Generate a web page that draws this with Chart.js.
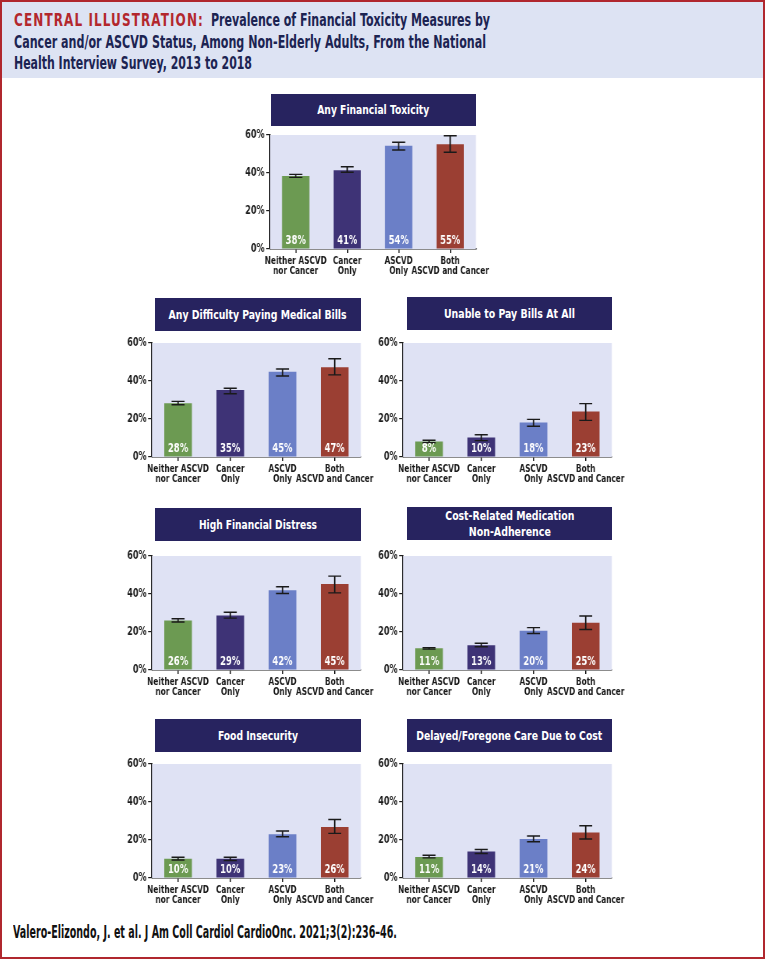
<!DOCTYPE html>
<html><head><meta charset="utf-8">
<script src="https://cdn.jsdelivr.net/npm/chart.js@4"></script>
<style>
html,body{margin:0;padding:0;background:#fff;}
#frame{position:absolute;left:0;top:0;width:761px;height:955px;border:2px solid #b0272e;overflow:hidden;}
#hdr{position:absolute;left:0;top:0;width:761px;height:76px;background:#dde3f3;}
.hl{position:absolute;white-space:nowrap;font-family:"DejaVu Sans Condensed","DejaVu Sans",sans-serif;font-weight:bold;font-size:18px;line-height:20px;color:#1c2452;transform-origin:left center;}
.red{color:#b3272d;letter-spacing:1.5px;}
.tbox{position:absolute;background:#27235f;color:#fff;font-family:"DejaVu Sans Condensed","DejaVu Sans",sans-serif;font-weight:bold;font-size:13px;display:flex;flex-direction:column;align-items:center;justify-content:center;text-align:center;line-height:16px;}
.tbox span{display:inline-block;white-space:nowrap;transform-origin:center center;}
canvas{position:absolute;}
#foot{position:absolute;white-space:nowrap;font-family:"DejaVu Sans Condensed","DejaVu Sans",sans-serif;font-weight:bold;font-size:18px;line-height:20px;color:#111;transform-origin:left center;}
</style></head>
<body>
<div id="frame">
<div id="hdr">
  <span class="hl red" id="h0">CENTRAL ILLUSTRATION:</span>
  <span class="hl" id="h1">Prevalence of Financial Toxicity Measures by</span>
  <span class="hl" id="h2">Cancer and/or ASCVD Status, Among Non-Elderly Adults, From the National</span>
  <span class="hl" id="h3">Health Interview Survey, 2013 to 2018</span>
</div>
<span id="foot">Valero-Elizondo, J. et al. J Am Coll Cardiol CardioOnc. 2021;3(2):236–46.</span>
</div>
<script>
// ---- data ----
const categories = [["Neither ASCVD","nor Cancer"],["Cancer","Only"],["ASCVD","Only"],["Both","ASCVD and Cancer"]];
const yTicks = [0, 20, 40, 60];
const panelTitles = [["Any Financial Toxicity"],["Any Difficulty Paying Medical Bills"],["Unable to Pay Bills At All"],["High Financial Distress"],["Cost-Related Medication","Non-Adherence"],["Food Insecurity"],["Delayed/Foregone Care Due to Cost"]];

const anyToxicity      = [38.4, 41.4, 54.4, 55.1];
const anyToxicityLow   = [37.7, 40.4, 52.1, 50.9];
const anyToxicityHigh  = [39.3, 43.3, 56.2, 59.6];
const anyToxicityText  = ["38%","41%","54%","55%"];

const difficultyBills     = [28.3, 35.3, 44.9, 47.2];
const difficultyBillsLow  = [27.5, 33.3, 42.6, 43.2];
const difficultyBillsHigh = [29.3, 36.2, 46.3, 51.7];
const difficultyBillsText = ["28%","35%","45%","47%"];

const unableToPay     = [8.1, 10.2, 18.2, 23.9];
const unableToPayLow  = [7.5, 8.6, 16.2, 19.3];
const unableToPayHigh = [8.8, 11.7, 19.8, 28.1];
const unableToPayText = ["8%","10%","18%","23%"];

const highDistress     = [26.0, 28.7, 42.0, 45.2];
const highDistressLow  = [25.3, 27.3, 40.3, 40.6];
const highDistressHigh = [27.0, 30.4, 43.8, 49.4];
const highDistressText = ["26%","29%","42%","45%"];

const medNonAdherence     = [11.4, 13.0, 20.6, 24.9];
const medNonAdherenceLow  = [11.0, 12.2, 19.2, 21.3];
const medNonAdherenceHigh = [11.8, 14.1, 22.3, 28.4];
const medNonAdherenceText = ["11%","13%","20%","25%"];

const foodInsecurity     = [10.1, 10.1, 23.0, 26.9];
const foodInsecurityLow  = [9.5, 9.2, 21.7, 23.5];
const foodInsecurityHigh = [10.9, 10.9, 24.7, 30.8];
const foodInsecurityText = ["10%","10%","23%","26%"];

const delayedCare     = [11.1, 14.0, 20.5, 24.0];
const delayedCareLow  = [10.6, 12.9, 19.1, 20.5];
const delayedCareHigh = [12.0, 15.0, 22.1, 27.5];
const delayedCareText = ["11%","14%","21%","24%"];

const barColors = ["#6c9a52","#3e3376","#6b7fc7","#9b3f33"];

// ---- text fitting (condensed look) ----
function fitText(el, w){ const n = el.getBoundingClientRect().width; el.style.transform = 'scaleX(' + (w/n) + ')'; }
function place(id, x, cy, w){ const el = document.getElementById(id); el.style.left=(x-2)+'px'; el.style.top=(cy-2-10)+'px'; fitText(el, w); }
place('h0', 14, 20, 190);
place('h1', 211, 20, 279);
place('h2', 14, 42, 472);
place('h3', 14, 63, 238);
place('foot', 13, 932, 384);

// ---- layout (positions only) ----
const panels = [
  {title:0, v:anyToxicity, lo:anyToxicityLow, hi:anyToxicityHigh, t:anyToxicityText, px:270, py:135, pw:206, box:[271,94,205,32], tw:[112]},
  {title:1, v:difficultyBills, lo:difficultyBillsLow, hi:difficultyBillsHigh, t:difficultyBillsText, px:152, py:343, pw:209, box:[155,298,206,33], tw:[178]},
  {title:2, v:unableToPay, lo:unableToPayLow, hi:unableToPayHigh, t:unableToPayText, px:403, py:343, pw:209, box:[407,297,205,33], tw:[131]},
  {title:3, v:highDistress, lo:highDistressLow, hi:highDistressHigh, t:highDistressText, px:152, py:556, pw:209, box:[155,508,206,33], tw:[118]},
  {title:4, v:medNonAdherence, lo:medNonAdherenceLow, hi:medNonAdherenceHigh, t:medNonAdherenceText, px:403, py:556, pw:209, box:[407,507,205,33], tw:[129,82]},
  {title:5, v:foodInsecurity, lo:foodInsecurityLow, hi:foodInsecurityHigh, t:foodInsecurityText, px:152, py:764, pw:209, box:[155,719,206,33], tw:[80]},
  {title:6, v:delayedCare, lo:delayedCareLow, hi:delayedCareHigh, t:delayedCareText, px:403, py:764, pw:209, box:[407,719,205,33], tw:[186]}
];
const S = 0.78;               // horizontal compression of the canvas (condensed typography)
const PH = 114, YW = 40, PADT = 8, PADR = 30, XH = 36;
const FONT = '"DejaVu Sans Condensed","DejaVu Sans",sans-serif';

const bgPlugin = {
  id:'plotbg',
  beforeDatasetsDraw(chart){
    const a = chart.chartArea, c = chart.ctx;
    c.save(); c.fillStyle = '#dfe2f4'; c.fillRect(a.left, a.top, a.right-a.left, a.bottom-a.top); c.restore();
  }
};
const errPlugin = {
  id:'errbars',
  afterDatasetsDraw(chart){
    const p = chart.options.plugins.errbars; const c = chart.ctx; const y = chart.scales.y;
    const meta = chart.getDatasetMeta(0);
    c.save();
    meta.data.forEach((bar,i)=>{
      const x = bar.x, yl = y.getPixelForValue(p.lo[i]), yh = y.getPixelForValue(p.hi[i]);
      const w = 6.5 / S;
      c.strokeStyle = '#1a1a1a';
      c.lineWidth = 1.4 / S;
      c.beginPath(); c.moveTo(x, yl); c.lineTo(x, yh); c.stroke();
      c.lineWidth = 1.4;
      c.beginPath(); c.moveTo(x-w, yl); c.lineTo(x+w, yl); c.moveTo(x-w, yh); c.lineTo(x+w, yh); c.stroke();
      c.fillStyle = '#ffffff'; c.font = 'bold 12px ' + FONT; c.textAlign='center'; c.textBaseline='middle';
      c.fillText(p.text[i], x, y.getPixelForValue(0) - 8.5);
    });
    c.restore();
  }
};

panels.forEach(p=>{
  const b = document.createElement('div'); b.className='tbox';
  b.style.left=(p.box[0]-2)+'px'; b.style.top=(p.box[1]-2)+'px'; b.style.width=p.box[2]+'px'; b.style.height=p.box[3]+'px';
  document.getElementById('frame').appendChild(b);
  panelTitles[p.title].forEach((line,k)=>{
    const s = document.createElement('span'); s.textContent = line; b.appendChild(s); fitText(s, p.tw[k]);
  });

  const cv = document.createElement('canvas');
  const W = YW + p.pw + PADR, H = PADT + PH + XH;
  const Wi = Math.round(W / S);
  cv.width = Wi; cv.height = H;
  cv.style.left = (p.px - YW - 2)+'px'; cv.style.top = (p.py - PADT - 2)+'px';
  document.getElementById('frame').appendChild(cv);

  new Chart(cv, {
    type:'bar',
    data:{labels:categories, datasets:[{data:p.v, backgroundColor:barColors, borderWidth:0, barPercentage:0.53, categoryPercentage:1}]},
    options:{
      responsive:false, animation:false, devicePixelRatio:1,
      layout:{padding:{top:PADT, right:Wi - (YW + p.pw)/S, left:0, bottom:0}},
      plugins:{legend:{display:false}, tooltip:{enabled:false}, errbars:{lo:p.lo, hi:p.hi, text:p.t}},
      scales:{
        x:{
          grid:{display:true, drawOnChartArea:false, drawTicks:true, tickLength:4, color:'#1a1a1a', lineWidth:1.5, offset:false},
          border:{display:true, color:'#1a1a1a', width:1.5},
          ticks:{color:'#1a1a1a', font:{family:FONT, size:10.5, weight:'bold', lineHeight:1.0}, padding:3, maxRotation:0, minRotation:0, autoSkip:false},
          afterFit(s){ s.height = XH; s.paddingLeft = 0; s.paddingRight = 0; }
        },
        y:{
          min:0, max:60,
          afterBuildTicks(s){ s.ticks = yTicks.map(v=>({value:v})); },
          grid:{display:true, drawOnChartArea:false, drawTicks:true, tickLength:5, color:'#1a1a1a', lineWidth:1.2},
          border:{display:true, color:'#1a1a1a', width:1.9},
          ticks:{color:'#1a1a1a', font:{family:FONT, size:11.5, weight:'bold'}, padding:2, callback:v=>v+'%'},
          afterFit(s){ s.width = YW / S; s.paddingTop = 0; s.paddingBottom = 0; }
        }
      }
    },
    plugins:[bgPlugin, errPlugin]
  });
  cv.style.width = W + 'px'; cv.style.height = H + 'px';
});
</script>
</body></html>
